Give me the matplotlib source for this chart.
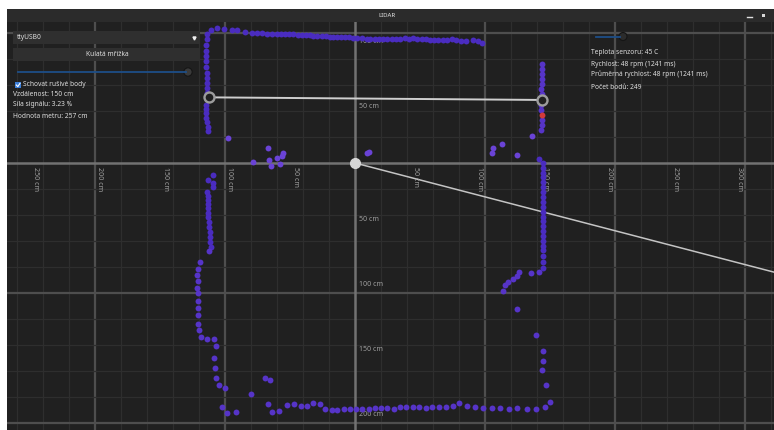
import numpy as np
import matplotlib.pyplot as plt
from matplotlib.patches import Rectangle, Circle

plt.rcParams['font.family'] = ['Noto Sans', 'DejaVu Sans']

# lidar points in cm, x to the right, y downwards (as drawn in the app)
top_x = [-113.6, -110.8, -106.4, -100.5, -94.9, -90.5, -84.6, -79.5, -75.6, -71.8,
         -67.4, -64.1, -60.3, -56.9, -53.8, -50.8, -47.7, -43.8, -41.0, -37.7,
         -34.6, -32.3, -29.2, -25.6, -22.3, -19.2, -16.9, -14.1, -11.0, -7.7,
         -4.6, -1.5, 1.3, 5.2, 9.0, 11.5, 15.4, 18.5, 21.5, 24.6,
         28.2, 31.5, 34.6, 38.5, 41.5, 44.6, 47.7, 51.3, 54.6, 57.7,
         60.8, 63.8, 67.5, 70.5, 74.4, 77.7, 81.3, 85.4, 90.5, 94.4, 97.9]
top_y = [-99.2, -102.3, -103.8, -102.8, -102.3, -102.3, -100.8, -99.7, -100.2, -99.7,
         -99.0, -99.0, -99.0, -99.0, -99.2, -99.0, -99.2, -98.7, -98.7, -98.7,
         -98.7, -97.9, -97.9, -97.4, -97.4, -97.2, -97.2, -96.9, -96.9, -96.9,
         -97.2, -96.2, -96.0, -96.0, -95.6, -95.4, -95.6, -95.2, -95.4, -95.6,
         -95.4, -95.4, -95.4, -96.4, -95.4, -96.0, -95.6, -95.2, -95.2, -94.8,
         -94.8, -94.8, -94.8, -94.8, -95.6, -94.4, -93.8, -93.8, -94.8, -93.8, -92.5]

left_up_x = [-114.2, -114.6, -114.6, -114.6, -114.6, -114.6, -114.2, -114.2, -114.2,
             -114.2, -114.2, -114.6, -114.6, -114.6, -114.6, -113.6, -113.1, -113.1]
left_up_y = [-95.0, -90.8, -86.5, -82.3, -78.1, -73.8, -69.6, -65.4, -61.5,
             -57.7, -53.8, -44.6, -41.5, -38.5, -34.6, -31.5, -27.7, -24.6]

left_mid_x = [-109.5, -112.8, -109.5, -109.0, -113.6, -113.1, -112.8, -112.8, -112.8,
              -112.8, -112.8, -112.3, -112.3, -111.9, -111.5, -111.5, -110.8]
left_mid_y = [9.5, 13.1, 15.2, 18.2, 22.1, 25.4, 28.5, 31.5, 34.8,
              38.2, 41.8, 45.4, 49.2, 53.1, 56.9, 60.8, 64.6]

noise_x = [-97.9, -66.9, -78.7, -65.9, -60.2, -56.4, -55.1, -64.8, -57.7,
           9.0, 10.8, 106.4, 105.1, 112.8, 124.4, 135.9]
noise_y = [-19.0, -11.3, -1.0, -2.3, -3.8, -5.4, -7.9, 2.3, 0.8,
           -7.7, -8.1, -11.3, -7.9, -14.4, -6.2, -20.8]

right_up_x = [143.8, 144.2, 143.8, 143.5, 143.5, 143.1, 143.5, 143.1, 143.1, 143.5, 143.5, 143.1]
right_up_y = [-76.2, -72.3, -68.5, -64.6, -60.8, -56.9, -53.1, -44.6, -40.8, -33.1, -29.2, -25.4]
red_x = [143.5]
red_y = [-36.9]

right_low_x = [141.8, 144.4, 144.4, 144.4, 144.4, 144.4, 144.4, 144.4, 144.4, 144.4, 144.4, 144.4,
               144.4, 144.4, 144.4, 144.9, 144.9, 144.9, 144.9, 144.9, 144.9, 144.9, 144.9]
right_low_y = [-3.3, 0.2, 4.1, 7.5, 11.0, 14.6, 18.2, 22.1, 25.9, 29.8, 33.6, 37.5,
               41.3, 44.6, 48.5, 52.3, 56.2, 60.0, 63.8, 66.9, 71.5, 76.2, 80.8]

corner_x = [141.8, 135.4, 126.4, 124.4, 121.3, 117.9, 115.4, 114.1, 124.4, 139.0,
            144.9, 144.9, 144.1, 146.7, 150.0, 146.2]
corner_y = [83.6, 84.4, 83.6, 86.9, 89.5, 91.3, 93.8, 98.2, 112.5, 132.1,
            144.6, 152.1, 159.2, 170.5, 183.6, 187.9]

bottom_x = [-23.1, -17.9, -13.6, -8.5, -3.8, 0.8, 5.6, 10.8, 15.4, 20.0,
            24.9, 29.8, 34.6, 39.2, 44.4, 49.2, 54.4, 59.5, 64.6, 69.8,
            75.2, 79.8, 86.4, 92.3, 98.7, 105.2, 111.5, 118.2, 124.4, 132.1, 139.0]
bottom_y = [189.0, 189.8, 189.8, 189.2, 189.5, 189.5, 189.2, 189.0, 188.7, 188.2,
            188.7, 189.0, 187.9, 187.9, 187.9, 187.9, 188.5, 187.9, 187.4, 187.7,
            186.7, 184.8, 187.2, 187.4, 188.7, 188.7, 188.7, 189.0, 188.7, 189.5, 189.5]

bl_x = [-52.1, -46.7, -41.8, -37.2, -32.1, -27.2, -58.2, -64.1, -67.2, -80.0,
        -69.2, -65.4, -102.5, -98.2, -91.8, -100.0, -104.4, -106.9, -107.7, -108.2,
        -106.9, -108.7, -114.1, -118.7, -120.0, -120.8, -120.5, -121.0, -121.0, -120.5,
        -121.3, -120.5, -121.3, -120.8, -119.2, -112.1]
bl_y = [186.2, 185.4, 186.7, 186.7, 184.6, 185.4, 190.5, 191.8, 185.4, 177.9,
        165.2, 166.9, 187.9, 192.3, 191.3, 173.3, 170.8, 165.4, 157.5, 150.3,
        141.0, 135.6, 135.4, 134.1, 128.7, 123.6, 116.9, 111.8, 106.2, 100.2,
        95.9, 90.5, 86.2, 81.5, 76.4, 67.7]

# measuring ruler end points (cm) and heading of the scan line
ruler_x = [-112.1, 144.1]
ruler_y = [-50.5, -48.5]
heading_deg = 14.6

x_labels = [-250, -200, -150, -100, -50, 50, 100, 150, 200, 250, 300]
y_labels = [-100, -50, 50, 100, 150, 200]

left_texts = ['Vzdálenost: 150 cm', 'Síla signálu: 3.23 %', 'Hodnota metru: 257 cm']
right_texts = ['Teplota senzoru: 45 C', 'Rychlost: 48 rpm (1241 ms)',
               'Průměrná rychlost: 48 rpm (1241 ms)', 'Počet bodů: 249']

BG = '#202020'
W, H = 774, 430
fig = plt.figure(figsize=(W / 100, H / 100), dpi=100, facecolor='white')

# plot area: x 7..774 px, y 22..430 px, 1.3 px per cm, origin at (355, 163)
ax = fig.add_axes([7 / W, 0, 767 / W, 408 / H])
ax.set_facecolor(BG)
ax.set_xlim((7 - 355) / 1.3, (774 - 355) / 1.3)
ax.set_ylim((430 - 163) / 1.3, (22 - 163) / 1.3)
for s in ax.spines.values():
    s.set_visible(False)
ax.set_xticks([])
ax.set_yticks([])

for v in range(-260, 340, 20):
    major = v % 100 == 0
    if v == 0:
        continue
    ax.axvline(v, color='#4e4e4e' if major else '#2e2e2e', lw=1.6 if major else 0.9, zorder=0)
for v in range(-100, 220, 20):
    major = v % 100 == 0
    if v == 0:
        continue
    ax.axhline(v, color='#4e4e4e' if major else '#2e2e2e', lw=1.6 if major else 0.9, zorder=0)
ax.axvline(0, color='#727272', lw=1.8, zorder=0.5)
ax.axhline(0, color='#727272', lw=1.8, zorder=0.5)

lab = dict(color='#9e9e9e', fontsize=5.1, textcoords='offset points')
for v in x_labels:
    dx = 3.6 if v < 0 else -3.6
    ax.annotate(f'{abs(v)} cm', (v, 0), xytext=(dx, -3), rotation=-90,
                ha='center', va='top', **lab)
for v in y_labels:
    dy = 3.4 if v > 0 else -3.4
    ax.annotate(f'{abs(v)} cm', (0, v), xytext=(3, dy), ha='left',
                va='bottom' if v > 0 else 'top', **lab)

# scan heading line
hx = 340
ax.plot([0, hx], [0, hx * np.tan(np.radians(heading_deg))], color='#c4c4c4', lw=1.1, zorder=1)

# points
dot = 18
blue = '#4a2cc0'
violet = '#5634c8'
light = '#6a43d6'
ax.scatter(top_x, top_y, s=dot, color=blue, lw=0, zorder=3)
ax.scatter(left_up_x, left_up_y, s=dot, color=blue, lw=0, zorder=3)
ax.scatter(left_mid_x, left_mid_y, s=dot, color=blue, lw=0, zorder=3)
ax.scatter(noise_x, noise_y, s=dot, color=light, lw=0, zorder=3)
ax.scatter(right_up_x, right_up_y, s=dot, color=violet, lw=0, zorder=3)
ax.scatter(red_x, red_y, s=dot, color='#d23a3a', lw=0, zorder=3)
ax.scatter(right_low_x, right_low_y, s=dot, color=blue, lw=0, zorder=3)
ax.scatter(corner_x, corner_y, s=dot, color=violet, lw=0, zorder=3)
ax.scatter(bottom_x, bottom_y, s=dot, color=violet, lw=0, zorder=3)
ax.scatter(bl_x, bl_y, s=dot, color=violet, lw=0, zorder=3)

# ruler
ax.plot(ruler_x, ruler_y, color='#cfcfcf', lw=1.4, zorder=4)
ax.plot(ruler_x, ruler_y, ls='none', marker='o', ms=7.2, mfc=BG, mec='#9c9c9c', mew=1.7, zorder=5)
ax.plot([0], [0], marker='o', ms=7, color='#d6d6d6', zorder=5)

# ui overlay in pixel coordinates
ui = fig.add_axes([0, 0, 1, 1])
ui.set_xlim(0, W)
ui.set_ylim(H, 0)
ui.axis('off')
ui.patch.set_alpha(0)

ui.add_patch(Rectangle((7, 9), W - 7, 13, fc='#2b2b2b', ec='none'))
ui.text(387, 15.5, 'LIDAR', color='#e8e8e8', fontsize=4.3, fontweight='bold', ha='center', va='center')
ui.plot([747, 752], [17, 17], color='#e0e0e0', lw=1)
ui.add_patch(Rectangle((761.5, 14), 3, 3, fc='#d8d8d8', ec='none'))

txt = dict(color='#dcdcdc', fontsize=4.8, va='center')
ui.add_patch(Rectangle((13, 31), 187, 13, fc='#2f2f2f', ec='none'))
ui.text(17, 37.5, 'ttyUSB0', ha='left', **txt)
ui.plot([194], [37.5], marker='v', ms=2.2, color='#f0f0f0')
ui.add_patch(Rectangle((13, 48), 187, 13, fc='#2f2f2f', ec='none'))
ui.text(107, 54.5, 'Kulatá mřížka', ha='center', **txt)

ui.plot([18, 186], [72, 72], color='#1d4e88', lw=1.3)
ui.add_patch(Circle((188, 72), 4.2, fc='#3a3a3a', ec='#151515', lw=0.8))

ui.add_patch(Rectangle((15, 82), 6, 6, fc='#3a7dd8', ec='none'))
ui.plot([16.3, 17.8, 20], [85, 86.6, 83.3], color='white', lw=0.8)
ui.text(23, 85, 'Schovat rušivé body', ha='left', **txt)
ui.text(13, 95, left_texts[0], ha='left', **txt)
ui.text(13, 104, left_texts[1], ha='left', **txt)
ui.text(13, 116, left_texts[2], ha='left', **txt)

ui.plot([596, 620], [36.5, 36.5], color='#1d4e88', lw=1.3)
ui.add_patch(Circle((623, 36.5), 4, fc='#2c2c2c', ec='#151515', lw=0.8))
ui.text(591, 52.5, right_texts[0], ha='left', **txt)
ui.text(591, 65, right_texts[1], ha='left', **txt)
ui.text(591, 74, right_texts[2], ha='left', **txt)
ui.text(591, 87.5, right_texts[3], ha='left', **txt)

fig.savefig('out.png', dpi=100, facecolor='white')
